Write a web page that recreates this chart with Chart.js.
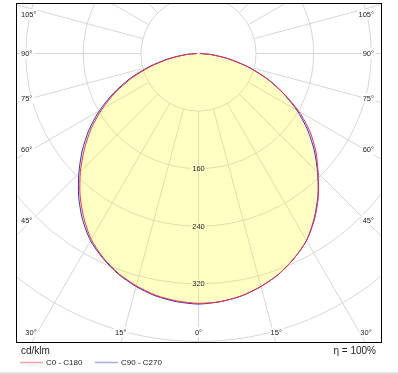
<!DOCTYPE html>
<html>
<head>
<meta charset="utf-8">
<script src="https://cdn.jsdelivr.net/npm/chart.js@4.4.0/dist/chart.umd.min.js"></script>
<style>
  html, body { margin: 0; padding: 0; background: #fff; }
  canvas { display: block; }
</style>
</head>
<body>
<canvas id="ldc" width="398" height="374"></canvas>
<script>
// gamma angles (deg from nadir) and intensities in cd/klm per C-plane half
const gammaAngles = [0, 5, 10, 15, 20, 25, 30, 35, 40, 45, 50, 55, 60, 65, 70, 75, 80, 85, 90];
const c0   = [347, 346, 342, 335, 326, 314, 300, 281, 259, 235, 213, 189, 161, 130, 101, 71, 42, 18, 2];
const c180 = [347, 345, 341, 334, 325, 313, 298, 278, 256, 232, 207, 182, 155, 127, 98, 68, 41, 17, 2];
const c90  = [348, 346, 342, 335, 326, 314, 300, 280, 258, 234, 210, 185, 158, 129, 100, 70, 42, 18, 2];
const c270 = [348, 346, 342, 335, 326, 314, 300, 281, 259, 235, 211, 186, 159, 130, 101, 71, 43, 18, 2];

const seriesNames = ['C0 - C180', 'C90 - C270'];
const ringValues = [80, 160, 240, 320, 400];
const ringLabels = [160, 240, 320];
const angleTicks = [0, 15, 30, 45, 60, 75, 90, 105];
const unitLabel = 'cd/klm';
const efficiencyLabel = 'η = 100%';

const pxPerCd = 0.72;

// left half goes from 90° down to 0°, right half back up to 90°
function toLoop(left, right) {
    const pts = [];
    for (let i = gammaAngles.length - 1; i >= 0; i--) {
        const t = gammaAngles[i] * Math.PI / 180;
        pts.push({ x: -left[i] * Math.sin(t), y: -left[i] * Math.cos(t) });
    }
    for (let i = 1; i < gammaAngles.length; i++) {
        const t = gammaAngles[i] * Math.PI / 180;
        pts.push({ x: right[i] * Math.sin(t), y: -right[i] * Math.cos(t) });
    }
    return pts;
}

const font = '"Liberation Sans", Arial, sans-serif';

const polarGrid = {
    id: 'polarGrid',
    beforeDatasetsDraw(chart) {
        const { ctx, chartArea: a, scales: { x, y } } = chart;
        const cx = x.getPixelForValue(0);
        const cy = y.getPixelForValue(0);
        const k = x.getPixelForValue(1) - cx;

        ctx.save();
        ctx.beginPath();
        ctx.rect(a.left, a.top, a.width, a.height);
        ctx.clip();
        ctx.strokeStyle = '#d6d6d6';
        ctx.lineWidth = 1;

        ringValues.forEach(v => {
            ctx.beginPath();
            ctx.arc(cx, cy, v * k, 0, Math.PI * 2);
            ctx.stroke();
        });

        // radial lines every 15°, starting at the first ring
        ctx.beginPath();
        for (let deg = 0; deg <= 180; deg += 15) {
            const sides = (deg === 0 || deg === 180) ? [1] : [-1, 1];
            sides.forEach(side => {
                const t = deg * Math.PI / 180;
                const r0 = ringValues[0] * k;
                ctx.moveTo(cx + side * Math.sin(t) * r0, cy + Math.cos(t) * r0);
                ctx.lineTo(cx + side * Math.sin(t) * 800, cy + Math.cos(t) * 800);
            });
        }
        ctx.stroke();

        // angle labels near the frame
        ctx.font = '7.5px ' + font;
        ctx.textBaseline = 'middle';
        const L = a.left + 9, R = a.right - 10, T = a.top + 11, B = a.bottom - 11;
        angleTicks.forEach(deg => {
            [-1, 1].forEach(side => {
                if (deg === 0 && side > 0) return;
                const t = deg * Math.PI / 180;
                const dx = side * Math.sin(t);
                const dy = Math.cos(t) * 0.96;
                let s = Infinity;
                if (dx < -1e-6) s = Math.min(s, (L - cx) / dx);
                if (dx > 1e-6) s = Math.min(s, (R - cx) / dx);
                if (dy > 1e-6) s = Math.min(s, (B - cy) / dy);
                const px = cx + dx * s;
                const py = Math.max(T, Math.min(B, cy + dy * s));
                const text = deg + '°';
                const w = ctx.measureText(text).width;
                let left = px - w / 2;
                left = Math.max(a.left + 5, Math.min(a.right - 8 - w, left));
                ctx.fillStyle = '#fff';
                ctx.fillRect(left - 1, py - 5, w + 3, 10);
                ctx.fillStyle = '#222';
                ctx.fillText(text, left, py + 0.5);
            });
        });
        ctx.restore();
    },
    afterDatasetsDraw(chart) {
        const { ctx, scales: { x, y } } = chart;
        const cx = x.getPixelForValue(0);
        ctx.save();
        ctx.font = '7.5px ' + font;
        ctx.textAlign = 'center';
        ctx.textBaseline = 'middle';
        ringLabels.forEach(v => {
            const py = y.getPixelForValue(-v);
            const w = ctx.measureText(String(v)).width;
            ctx.fillStyle = 'rgb(255,255,196)';
            ctx.fillRect(cx - w / 2 - 1, py - 4, w + 2, 8);
            ctx.fillStyle = '#222';
            ctx.fillText(String(v), cx, py + 0.5);
        });
        ctx.restore();
    },
    afterDraw(chart) {
        const { ctx, chartArea: a, width, height } = chart;
        ctx.save();
        ctx.strokeStyle = '#000';
        ctx.lineWidth = 1;
        ctx.strokeRect(a.left + 0.5, a.top + 0.5, a.width - 1, a.height - 1);

        ctx.textBaseline = 'middle';
        ctx.fillStyle = '#222';
        ctx.font = '10px ' + font;
        ctx.fillText(unitLabel, a.left + 5, 351);
        ctx.textAlign = 'right';
        ctx.fillText(efficiencyLabel, a.right - 6, 351);

        const legendColors = ['#f2a2a2', '#a8a8ee'];
        ctx.textAlign = 'left';
        ctx.font = '8px ' + font;
        let lx = a.left + 4;
        seriesNames.forEach((name, i) => {
            ctx.strokeStyle = legendColors[i];
            ctx.lineWidth = 1.5;
            ctx.beginPath();
            ctx.moveTo(lx, 362.5);
            ctx.lineTo(lx + 23, 362.5);
            ctx.stroke();
            ctx.fillStyle = '#222';
            ctx.fillText(name, lx + 26, 362.5);
            lx += 75;
        });

        ctx.fillStyle = '#e2e2e2';
        ctx.fillRect(0, height - 2, width, 2);
        ctx.restore();
    }
};

const redLoop = toLoop(c180, c0);
const blueLoop = toLoop(c270, c90);

new Chart(document.getElementById('ldc'), {
    type: 'line',
    data: {
        datasets: [
            {
                label: 'fill',
                data: blueLoop,
                fill: 'shape',
                backgroundColor: 'rgba(255,255,0,0.23)',
                borderWidth: 0,
                pointRadius: 0,
                tension: 0.25,
                order: 3
            },
            {
                label: seriesNames[1],
                data: blueLoop,
                borderColor: 'rgb(45,45,225)',
                borderWidth: 1,
                pointRadius: 0,
                tension: 0.25,
                fill: false,
                order: 2
            },
            {
                label: seriesNames[0],
                data: redLoop,
                borderColor: 'rgb(235,50,60)',
                borderWidth: 1,
                pointRadius: 0,
                tension: 0.25,
                fill: false,
                order: 1
            }
        ]
    },
    options: {
        responsive: false,
        animation: false,
        devicePixelRatio: 1,
        layout: { padding: { left: 16, top: 3, right: 16, bottom: 31 } },
        plugins: {
            legend: { display: false },
            tooltip: { enabled: false }
        },
        scales: {
            x: { type: 'linear', display: false, min: -182.5 / pxPerCd, max: (366 - 182.5) / pxPerCd },
            y: { type: 'linear', display: false, min: -(340 - 50.5) / pxPerCd, max: 50.5 / pxPerCd }
        }
    },
    plugins: [polarGrid]
});
</script>
</body>
</html>
